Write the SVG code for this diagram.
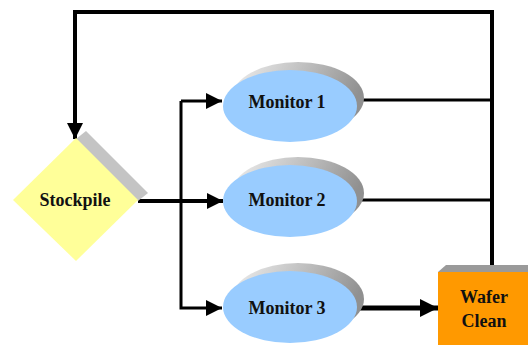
<svg xmlns="http://www.w3.org/2000/svg" width="528" height="345" viewBox="0 0 528 345">
<style>
.lbl{font-family:'Liberation Serif','Times New Roman',Times,serif;font-weight:700;font-size:18px;fill:#111;text-anchor:middle}
.ln{fill:none;stroke:#000;stroke-linejoin:miter}
.ell{fill:#99CCFF}
</style>
<defs>
<linearGradient id="sh" x1="0" y1="0" x2="1" y2="0.3">
<stop offset="0" stop-color="#f0f0f0"/>
<stop offset="0.6" stop-color="#b8b8b8"/>
<stop offset="1" stop-color="#909090"/>
</linearGradient>
<marker id="ah" viewBox="0 0 16 16" refX="16" refY="8" markerWidth="16" markerHeight="16" orient="auto" markerUnits="userSpaceOnUse">
<path d="M0,0 L16,8 L0,16 z" fill="#000"/>
</marker>
<marker id="ah3" viewBox="0 0 18 18" refX="18" refY="9" markerWidth="18" markerHeight="18" orient="auto" markerUnits="userSpaceOnUse">
<path d="M0,0 L18,9 L0,18 z" fill="#000"/>
</marker>
</defs>
<g id="connectors">
<path class="ln" stroke-width="4" d="M492,272 V12 H75 V139" marker-end="url(#ah)"/>
<path class="ln" stroke-width="3" d="M362,100 H492"/>
<path class="ln" stroke-width="3" d="M362,200 H492"/>
<path class="ln" stroke-width="4" d="M138,201 H223" marker-end="url(#ah)"/>
<path class="ln" stroke-width="3" d="M181,101 V308 H222" marker-end="url(#ah)"/>
<path class="ln" stroke-width="3" d="M181,101 H222" marker-end="url(#ah)"/>
<path class="ln" stroke-width="5" d="M358,308 H438" marker-end="url(#ah3)"/>
</g>
<g id="stockpile">
<polygon points="86,131 148,193 138,201 76,139" fill="#c4c4c4"/>
<polygon points="76,138 138,200 76,261 13,200" fill="#FFFF99"/>
<text class="lbl" x="75" y="206">Stockpile</text>
</g>
<g id="monitor1">
<ellipse cx="298" cy="98" rx="66" ry="36" fill="url(#sh)"/>
<ellipse class="ell" cx="290" cy="106" rx="67" ry="36"/>
<text class="lbl" x="287" y="108">Monitor 1</text>
</g>
<g id="monitor2">
<ellipse cx="298" cy="193" rx="66" ry="36" fill="url(#sh)"/>
<ellipse class="ell" cx="290" cy="201" rx="67" ry="36"/>
<text class="lbl" x="287" y="206">Monitor 2</text>
</g>
<g id="monitor3">
<ellipse cx="298" cy="299" rx="66" ry="36" fill="url(#sh)"/>
<ellipse class="ell" cx="290" cy="307" rx="67" ry="36"/>
<text class="lbl" x="287" y="314">Monitor 3</text>
</g>
<g id="waferclean">
<polygon points="438,272 446,265 528,265 528,272" fill="#9a9a9a"/>
<rect x="438" y="272" width="90" height="73" fill="#FF9900"/>
<text class="lbl" x="484" y="303">Wafer</text>
<text class="lbl" x="484" y="327">Clean</text>
</g>
</svg>
